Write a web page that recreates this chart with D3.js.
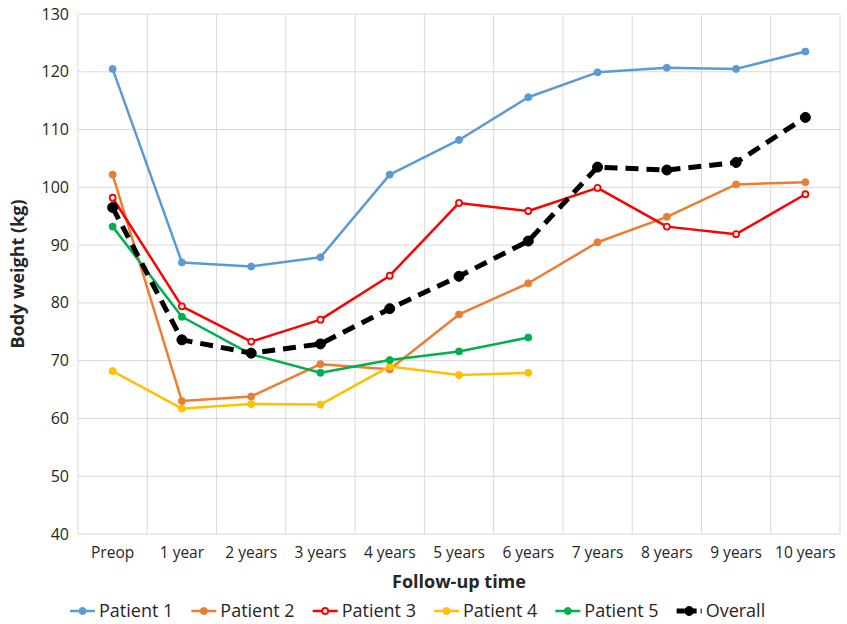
<!DOCTYPE html>
<html>
<head>
<meta charset="utf-8">
<script src="https://cdn.jsdelivr.net/npm/d3@7"></script>
<style>
  body { margin: 0; background: #fff; }
  svg text { font-family: "Open Sans", sans-serif; fill: #262626; }
</style>
</head>
<body>
<div id="container"></div>
<script>
const categories = ["Preop", "1 year", "2 years", "3 years", "4 years", "5 years", "6 years", "7 years", "8 years", "9 years", "10 years"];
const yTicks = [40, 50, 60, 70, 80, 90, 100, 110, 120, 130];

const patient1 = [120.5, 87.0, 86.3, 87.9, 102.2, 108.2, 115.6, 119.9, 120.7, 120.5, 123.5];
const patient2 = [102.2, 63.0, 63.8, 69.4, 68.5, 78.0, 83.4, 90.5, 94.9, 100.5, 100.9];
const patient3 = [98.2, 79.4, 73.3, 77.1, 84.7, 97.3, 95.9, 99.9, 93.2, 91.9, 98.8];
const patient4 = [68.2, 61.7, 62.5, 62.4, 69.0, 67.5, 67.9];
const patient5 = [93.2, 77.6, 71.1, 67.9, 70.1, 71.6, 74.0];
const overall = [96.5, 73.6, 71.3, 72.9, 79.0, 84.6, 90.7, 103.5, 103.0, 104.3, 112.1];

const series = [
    {name: "Patient 1", values: patient1, color: "#5B9BD5"},
    {name: "Patient 2", values: patient2, color: "#ED7D31"},
    {name: "Patient 3", values: patient3, color: "#FF0000", hollow: true},
    {name: "Patient 4", values: patient4, color: "#FFC000"},
    {name: "Patient 5", values: patient5, color: "#00B050"},
    {name: "Overall", values: overall, color: "#000000", dashed: true}
];

const width = 847, height = 624;
const margin = {top: 14, right: 7, bottom: 90, left: 78};

const svg = d3.select("#container").append("svg")
    .attr("width", width)
    .attr("height", height);

const x = d3.scaleBand()
    .domain(categories)
    .range([margin.left, width - margin.right]);

const y = d3.scaleLinear()
    .domain([40, 130])
    .range([height - margin.bottom, margin.top]);

// gridlines
const grid = svg.append("g");
grid.selectAll("line.h")
    .data(yTicks)
    .join("line")
    .attr("x1", margin.left).attr("x2", width - margin.right)
    .attr("y1", d => y(d)).attr("y2", d => y(d))
    .attr("stroke", "#d9d9d9").attr("stroke-width", 1);
const bounds = categories.map(c => x(c)).concat([x(categories[categories.length - 1]) + x.bandwidth()]);
grid.selectAll("line.v")
    .data(bounds)
    .join("line")
    .attr("x1", d => d).attr("x2", d => d)
    .attr("y1", margin.top).attr("y2", y(40))
    .attr("stroke", "#d9d9d9").attr("stroke-width", 1);

// y axis labels
svg.append("g")
    .selectAll("text")
    .data(yTicks)
    .join("text")
    .attr("x", margin.left - 9)
    .attr("y", d => y(d))
    .attr("dy", "0.35em")
    .attr("text-anchor", "end")
    .attr("font-size", 16)
    .text(d => d);

// x axis labels
svg.append("g")
    .selectAll("text")
    .data(categories)
    .join("text")
    .attr("x", d => x(d) + x.bandwidth() / 2)
    .attr("y", y(40) + 24)
    .attr("text-anchor", "middle")
    .attr("font-size", 15.5)
    .text(d => d);

// axis titles
svg.append("text")
    .attr("x", (margin.left + width - margin.right) / 2)
    .attr("y", 588)
    .attr("text-anchor", "middle")
    .attr("font-size", 18)
    .attr("font-weight", "bold")
    .text("Follow-up time");

svg.append("text")
    .attr("transform", `translate(24,${(margin.top + y(40)) / 2}) rotate(-90)`)
    .attr("text-anchor", "middle")
    .attr("font-size", 18)
    .attr("font-weight", "bold")
    .text("Body weight (kg)");

const line = d3.line()
    .x((d, i) => x(categories[i]) + x.bandwidth() / 2)
    .y(d => y(d));

const plot = svg.append("g");
series.forEach(s => {
    plot.append("path")
        .datum(s.values)
        .attr("fill", "none")
        .attr("stroke", s.color)
        .attr("stroke-width", s.dashed ? 5 : 2.5)
        .attr("stroke-dasharray", s.dashed ? "13,8" : null)
        .attr("stroke-linejoin", "round")
        .attr("d", line);
    plot.append("g")
        .selectAll("circle")
        .data(s.values)
        .join("circle")
        .attr("cx", (d, i) => x(categories[i]) + x.bandwidth() / 2)
        .attr("cy", d => y(d))
        .attr("r", s.dashed ? 5 : (s.hollow ? 3 : 3.5))
        .attr("fill", s.hollow ? "#fff" : s.color)
        .attr("stroke", s.color)
        .attr("stroke-width", s.hollow ? 1.8 : 1);
});

// legend
const legend = svg.append("g").attr("transform", "translate(70,611)");
let lx = 0;
series.forEach(s => {
    const g = legend.append("g").attr("transform", `translate(${lx},0)`);
    g.append("line")
        .attr("x1", 0).attr("x2", 25)
        .attr("y1", 0).attr("y2", 0)
        .attr("stroke", s.color)
        .attr("stroke-width", s.dashed ? 5 : 2.5)
        .attr("stroke-dasharray", s.dashed ? "8,4" : null);
    g.append("circle")
        .attr("cx", 12.5).attr("cy", 0)
        .attr("r", s.dashed ? 4.5 : (s.hollow ? 3 : 3.5))
        .attr("fill", s.hollow ? "#fff" : s.color)
        .attr("stroke", s.color)
        .attr("stroke-width", s.hollow ? 1.8 : 1);
    const t = g.append("text")
        .attr("x", 29)
        .attr("dy", "0.35em")
        .attr("font-size", 18)
        .text(s.name);
    lx += 29 + t.node().getComputedTextLength() + 18;
});
</script>
</body>
</html>
